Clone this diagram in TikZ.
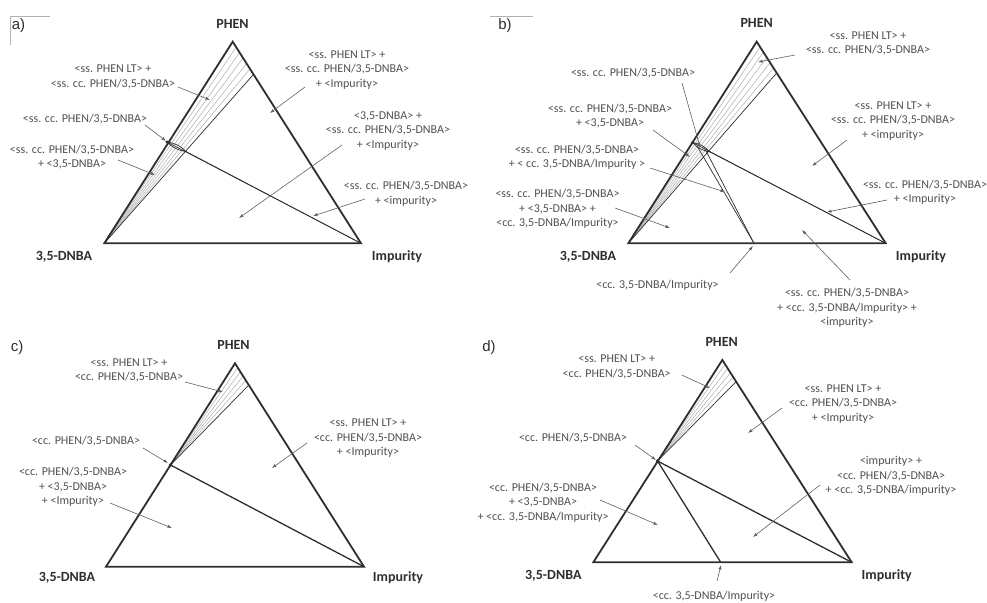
\documentclass[tikz,border=0pt]{standalone}
\usepackage{fontspec}
\setmainfont{Carlito}
\newfontfamily\panelfont{Liberation Sans}
\usetikzlibrary{arrows.meta,calc}
\definecolor{txt}{HTML}{505050}
\definecolor{edge}{HTML}{2E2E2E}
\definecolor{ptrc}{HTML}{606060}
\begin{document}
\begin{tikzpicture}[x=1pt,y=-1pt,
  tri/.style={draw=edge, line width=1.8pt, line join=miter},
  phase/.style={draw=edge, line width=1.3pt},
  thinph/.style={draw=edge, line width=0.7pt},
  hatch/.style={draw=gray!65, line width=0.5pt},
  lab/.style={text=txt, font=\fontsize{12}{14.5}\selectfont, align=center, inner sep=0pt},
  vert/.style={text=edge, font=\fontsize{14}{16}\selectfont\bfseries, inner sep=0pt},
  panel/.style={text=edge, font=\panelfont\fontsize{15}{17}\selectfont, inner sep=0pt},
  ptr/.style={draw=ptrc, line width=0.6pt, -{Latex[length=4.5pt,width=3.2pt]}},
  deco/.style={draw=gray!60, line width=0.5pt}]
\useasboundingbox (0,0) rectangle (987,602);

% ================= panel a =================
\coordinate (aBL) at (104.3,243.3);
\coordinate (aBR) at (361,243.3);
\coordinate (aA) at (232.7,41.7);
\coordinate (aL1) at (167,142);
\coordinate (aL2) at (186,151.5);
\coordinate (aK1) at (10,16); \coordinate (aK2) at (50,16); \coordinate (aK3) at (10,45);
\draw[deco] (aK3) -- (aK1) -- (aK2);
\node[panel] (aTag) at (18.5,26) {a)};
\foreach \t in {0.027,0.054,0.081,0.108,0.135}
  \draw[hatch] (aBL) -- ($(aA)!\t!(aBR)$);
\draw[thinph] (aBL) -- ($(aA)!0.162!(aBR)$);
\draw[thinph] (aL1) -- (aBR);
\draw[thinph] (aL2) -- (aBR);
\draw[thinph] (aL1) to[bend left=18] (aL2) to[bend left=18] (aL1);
\draw[tri] (aBL) -- (aBR) -- (aA) -- cycle;
\fill[edge] (aL1) circle (1.6pt);
\node[vert] (aPH) at (232.5,24) {PHEN};
\node[vert] (aDN) at (64,257) {3,5-DNBA};
\node[vert] (aIM) at (397,257) {Impurity};

\node[lab] (a1) at (113,77) {<ss. PHEN LT> +\\<ss. cc. PHEN/3,5-DNBA>};
\coordinate (a1s) at (178,87); \coordinate (a1e) at (210,100);
\draw[ptr] (a1s) -- (a1e);
\node[lab] (a2) at (347,70) {<ss. PHEN LT> +\\<ss. cc. PHEN/3,5-DNBA>\\+ <Impurity>};
\coordinate (a2s) at (305,87); \coordinate (a2e) at (270,113);
\draw[ptr] (a2s) -- (a2e);
\node[lab] (a3) at (85,119) {<ss. cc. PHEN/3,5-DNBA>};
\coordinate (a3s) at (145,125); \coordinate (a3e) at (166,141);
\draw[ptr] (a3s) -- (a3e);
\node[lab] (a4) at (72,157) {<ss. cc. PHEN/3,5-DNBA>\\+ <3,5-DNBA>};
\coordinate (a4s) at (118,160); \coordinate (a4e) at (155,175);
\draw[ptr] (a4s) -- (a4e);
\node[lab] (a5) at (388,131) {<3,5-DNBA> +\\<ss. cc. PHEN/3,5-DNBA>\\+ <Impurity>};
\coordinate (a5s) at (342,145); \coordinate (a5e) at (239,218);
\draw[ptr] (a5s) -- (a5e);
\node[lab] (a6) at (406,194) {<ss. cc. PHEN/3,5-DNBA>\\+ <impurity>};
\coordinate (a6s) at (365,199); \coordinate (a6e) at (313,216);
\draw[ptr] (a6s) -- (a6e);

% ================= panel b =================
\coordinate (bBL) at (628.3,243.3);
\coordinate (bBR) at (885.7,243.3);
\coordinate (bA) at (756.7,41.7);
\coordinate (bL1) at (692.5,142.5);
\coordinate (bL2) at (710,152);
\coordinate (bL3) at (697,146);
\coordinate (bL4) at (705,149);
\coordinate (bQ) at (754,243.3);
\coordinate (bK1) at (490,16); \coordinate (bK2) at (533,16);
\draw[deco] (bK1) -- (bK2);
\node[panel] (bTag) at (505,26) {b)};
\foreach \t in {0.026,0.052,0.078,0.104,0.13}
  \draw[hatch] (bBL) -- ($(bA)!\t!(bBR)$);
\draw[thinph] (bBL) -- ($(bA)!0.155!(bBR)$);
\draw[thinph] (bL1) -- (bBR);
\draw[thinph] (bL2) -- (bBR);
\draw[thinph] (bL1) to[bend left=18] (bL2) to[bend left=18] (bL1);
\draw[thinph] (bL3) -- (bQ);
\draw[thinph] (bL4) -- (bQ);
\draw[tri] (bBL) -- (bBR) -- (bA) -- cycle;
\fill[edge] (bL1) circle (1.6pt);
\node[vert] (bPH) at (756.7,23) {PHEN};
\node[vert] (bDN) at (588,257) {3,5-DNBA};
\node[vert] (bIM) at (921,257) {Impurity};

\node[lab] (b1) at (868,43.5) {<ss. PHEN LT> +\\<ss. cc. PHEN/3,5-DNBA>};
\coordinate (b1s) at (795,55); \coordinate (b1e) at (758,62);
\draw[ptr] (b1s) -- (b1e);
\node[lab] (b2) at (633,73) {<ss. cc. PHEN/3,5-DNBA>};
\coordinate (b2s) at (682,83); \coordinate (b2e) at (700,147);
\draw[ptr] (b2s) -- (b2e);
\node[lab] (b3) at (610,116) {<ss. cc. PHEN/3,5-DNBA>\\+ <3,5-DNBA>};
\coordinate (b3s) at (653,130); \coordinate (b3e) at (690,157);
\draw[ptr] (b3s) -- (b3e);
\node[lab] (b4) at (577,157.5) {<ss. cc. PHEN/3,5-DNBA>\\+ < cc. 3,5-DNBA/Impurity >};
\coordinate (b4s) at (650,168); \coordinate (b4e) at (725,192);
\draw[ptr] (b4s) -- (b4e);
\node[lab] (b5) at (557.5,209) {<ss. cc. PHEN/3,5-DNBA>\\+ <3,5-DNBA> +\\<cc. 3,5-DNBA/Impurity>};
\coordinate (b5s) at (615,208); \coordinate (b5e) at (670,228);
\draw[ptr] (b5s) -- (b5e);
\node[lab] (b6) at (893,121) {<ss. PHEN LT> +\\<ss. cc. PHEN/3,5-DNBA>\\+ <impurity>};
\coordinate (b6s) at (847,140); \coordinate (b6e) at (812,166);
\draw[ptr] (b6s) -- (b6e);
\node[lab] (b7) at (925,192.5) {<ss. cc. PHEN/3,5-DNBA>\\+ <Impurity>};
\coordinate (b7s) at (887,200); \coordinate (b7e) at (827,212);
\draw[ptr] (b7s) -- (b7e);
\node[lab] (b8) at (657.5,285) {<cc. 3,5-DNBA/Impurity>};
\coordinate (b8s) at (730,273); \coordinate (b8e) at (753,246);
\draw[ptr] (b8s) -- (b8e);
\node[lab] (b9) at (847,308) {<ss. cc. PHEN/3,5-DNBA>\\+ <cc. 3,5-DNBA/Impurity> +\\<impurity>};
\coordinate (b9s) at (850,280); \coordinate (b9e) at (802,230);
\draw[ptr] (b9s) -- (b9e);

% ================= panel c =================
\coordinate (cBL) at (106,566.7);
\coordinate (cBR) at (364,566.7);
\coordinate (cA) at (235,363.3);
\coordinate (cC) at (170.5,465);
\node[panel] (cTag) at (17,348) {c)};
\foreach \t in {0.021,0.042,0.063,0.084}
  \draw[hatch] (cC) -- ($(cA)!\t!(cBR)$);
\draw[thinph] (cC) -- ($(cA)!0.107!(cBR)$);
\draw[phase] (cC) -- (cBR);
\draw[tri] (cBL) -- (cBR) -- (cA) -- cycle;
\fill[edge] (cC) circle (1.8pt);
\node[vert] (cPH) at (233.5,345) {PHEN};
\node[vert] (cDN) at (67,578) {3,5-DNBA};
\node[vert] (cIM) at (398,578) {Impurity};

\node[lab] (c1) at (129,370.5) {<ss. PHEN LT> +\\<cc. PHEN/3,5-DNBA>};
\coordinate (c1s) at (185,382); \coordinate (c1e) at (223,392);
\draw[ptr] (c1s) -- (c1e);
\node[lab] (c2) at (368,438.5) {<ss. PHEN LT> +\\<cc. PHEN/3,5-DNBA>\\+ <Impurity>};
\coordinate (c2s) at (307,443); \coordinate (c2e) at (272,468);
\draw[ptr] (c2s) -- (c2e);
\node[lab] (c3) at (86,441) {<cc. PHEN/3,5-DNBA>};
\coordinate (c3s) at (143,448); \coordinate (c3e) at (168,463);
\draw[ptr] (c3s) -- (c3e);
\node[lab] (c4) at (73,487) {<cc. PHEN/3,5-DNBA>\\+ <3,5-DNBA>\\+ <Impurity>};
\coordinate (c4s) at (110,503); \coordinate (c4e) at (172,528);
\draw[ptr] (c4s) -- (c4e);

% ================= panel d =================
\coordinate (dBL) at (593.3,562.3);
\coordinate (dBR) at (851.7,562.3);
\coordinate (dA) at (722.3,360);
\coordinate (dC) at (657.5,461);
\coordinate (dQ) at (720.7,562.3);
\node[panel] (dTag) at (489,348) {d)};
\foreach \t in {0.021,0.042,0.063,0.084}
  \draw[hatch] (dC) -- ($(dA)!\t!(dBR)$);
\draw[thinph] (dC) -- ($(dA)!0.107!(dBR)$);
\draw[phase] (dC) -- (dBR);
\draw[phase] (dC) -- (dQ);
\draw[tri] (dBL) -- (dBR) -- (dA) -- cycle;
\fill[edge] (dC) circle (1.8pt);
\node[vert] (dPH) at (721.7,341.7) {PHEN};
\node[vert] (dDN) at (553.3,575.7) {3,5-DNBA};
\node[vert] (dIM) at (886.7,575.7) {Impurity};

\node[lab] (d1) at (616.7,367) {<ss. PHEN LT> +\\<cc. PHEN/3,5-DNBA>};
\coordinate (d1s) at (681.7,375); \coordinate (d1e) at (710,388);
\draw[ptr] (d1s) -- (d1e);
\node[lab] (d2) at (843,404) {<ss. PHEN LT> +\\<cc. PHEN/3,5-DNBA>\\+ <Impurity>};
\coordinate (d2s) at (782,408); \coordinate (d2e) at (748,433);
\draw[ptr] (d2s) -- (d2e);
\node[lab] (d3) at (573,438) {<cc. PHEN/3,5-DNBA>};
\coordinate (d3s) at (635,445); \coordinate (d3e) at (656,460);
\draw[ptr] (d3s) -- (d3e);
\node[lab] (d4) at (543,502.5) {<cc. PHEN/3,5-DNBA>\\+ <3,5-DNBA>\\+ <cc. 3,5-DNBA/Impurity>};
\coordinate (d4s) at (600,500); \coordinate (d4e) at (658,525);
\draw[ptr] (d4s) -- (d4e);
\node[lab] (d5) at (891,476) {<impurity> +\\<cc. PHEN/3,5-DNBA>\\+ <cc. 3,5-DNBA/impurity>};
\coordinate (d5s) at (820,485); \coordinate (d5e) at (753,537);
\draw[ptr] (d5s) -- (d5e);
\node[lab] (d6) at (714,596) {<cc. 3,5-DNBA/Impurity>};
\coordinate (d6s) at (717,581); \coordinate (d6e) at (721,565);
\draw[ptr] (d6s) -- (d6e);
\end{tikzpicture}
\end{document}
